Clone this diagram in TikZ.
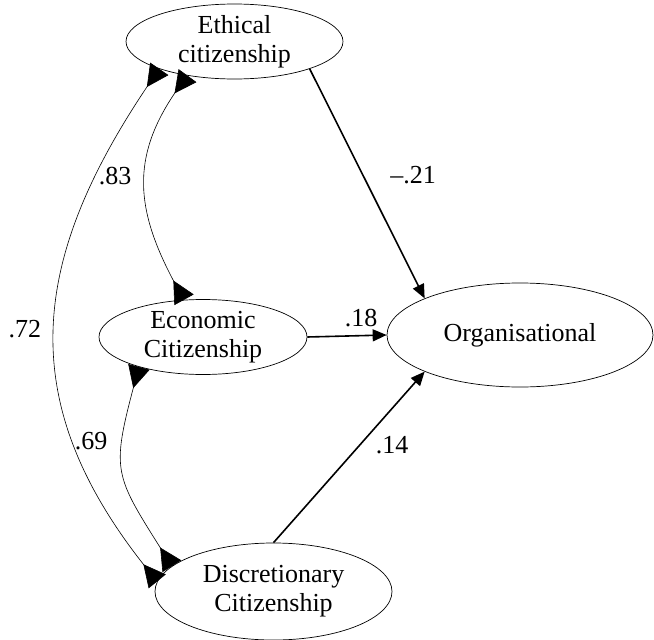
\documentclass[tikz,border=0pt]{standalone}
\usepackage{fontspec}
\setmainfont{Liberation Serif}
\usetikzlibrary{arrows.meta,shapes.geometric,bending}

\begin{document}
\begin{tikzpicture}[
    x=1pt, y=-1pt,
    every node/.style={
      font=\fontsize{26}{29}\selectfont
    },
    latent/.style={
      ellipse,
      draw,
      line width=0.7pt,
      inner xsep=0pt,
      inner ysep=-5pt,
      align=center
    },
    regress/.style={
      -{Triangle[length=14pt,width=12pt]},
      line width=1.6pt
    },
    covar/.style={
      {Triangle[reversed,length=22pt,width=22pt,flex]}-{Triangle[reversed,length=22pt,width=22pt,flex]},
      line width=0.6pt
    }
  ]
    \useasboundingbox (0,0) rectangle (654,640);

    \node[latent,minimum width=217pt,minimum height=75pt] (ethical) at (234.5,41.5) {Ethical\\citizenship};
    \node[latent,minimum width=208pt,minimum height=75pt] (econ) at (203,337) {Economic\\Citizenship};
    \node[latent,minimum width=266pt,minimum height=104pt] (org) at (520,335) {Organisational};
    \node[latent,minimum width=237pt,minimum height=97pt] (disc) at (273.5,591.5) {Discretionary\\Citizenship};

    \draw[regress] (ethical.340) -- (org.159);
    \draw[regress] (econ.east) -- (org.west);
    \draw[regress] (disc.90) -- (org.201);

    \draw[covar] (ethical.216) to[out=232,in=120,looseness=1.15] (econ.117);
    \draw[covar] (ethical.200) to[out=235,in=130,looseness=1.15] (disc.175);
    \draw[covar] (econ.205) to[out=255,in=122,looseness=1.45] (disc.166);

    \node (l83) at (115,176) {.83};
    \node (l72) at (25,329) {.72};
    \node (l69) at (91,441) {.69};
    \node (l21) at (413,175) {--.21};
    \node (l18) at (361,318) {.18};
    \node (l14) at (392,445) {.14};
  \end{tikzpicture}
\end{document}
